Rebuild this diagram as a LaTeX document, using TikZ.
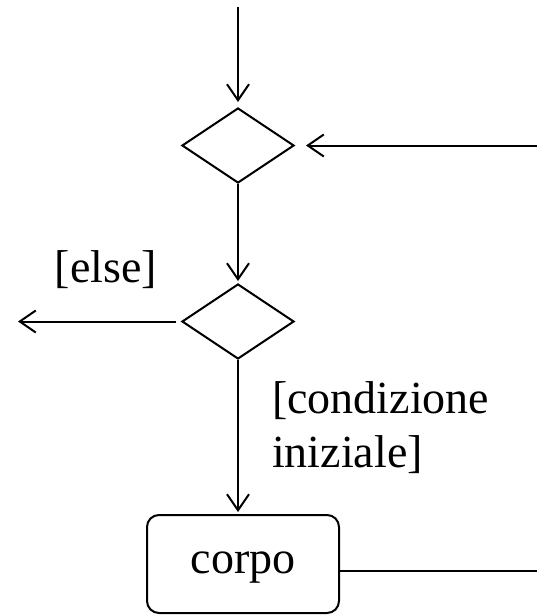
\documentclass[tikz,border=0pt]{standalone}
\usepackage{fontspec}
\setmainfont{Liberation Serif}
\usetikzlibrary{shapes.geometric,arrows.meta}
\tikzset{
  dec/.style={draw,shape=diamond,minimum width=112pt,minimum height=75pt,inner sep=0pt,line width=2pt},
  act/.style={draw,rounded corners=12pt,minimum width=192pt,minimum height=98pt,inner sep=0pt,line width=2pt},
  flow/.style={line width=2pt,-{Straight Barb[length=16pt,width=22pt,line width=2pt]}},
  plain/.style={line width=2pt},
  lbl/.style={font=\fontsize{46}{54}\selectfont,inner sep=0pt}
}
\begin{document}
\begin{tikzpicture}[x=1pt,y=-1pt]
\useasboundingbox (0,0) rectangle (537,615);
\node[dec] (d1) at (238,145.5) {};
\node[dec] (d2) at (238,321.5) {};
\node[act] (box) at (243,564) {};
\node[lbl,anchor=base] (corpo) at (243,573) {corpo};
\node[lbl,anchor=base] (else) at (106,282) {[else]};
\node[lbl,anchor=base west,align=left] (cond) at (272,467) {[condizione\\iniziale]};
\coordinate (top) at (238,7);
\coordinate (right) at (537,145.5);
\coordinate (left) at (18,321.5);
\coordinate (out) at (537,571);
\draw[flow,shorten >=5pt] (top) -- (d1.north);
\draw[flow,shorten >=11pt] (right) -- (d1.east);
\draw[flow,shorten >=2pt] (d1.south) -- (d2.north);
\draw[flow,shorten <=5pt] (d2.west) -- (left);
\draw[flow,shorten >=2pt] (d2.south) -- (d2.south |- box.north);
\draw[plain] (box.east |- out) -- (out);
\end{tikzpicture}
\end{document}
